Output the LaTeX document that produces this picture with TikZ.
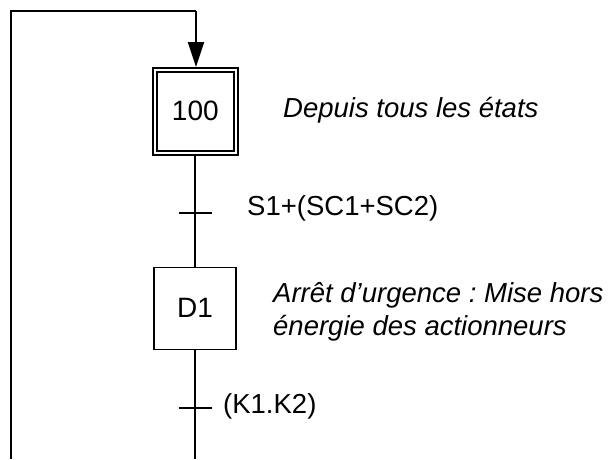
\documentclass[tikz,border=0pt]{standalone}
\usepackage{fontspec}
\setmainfont{Liberation Sans}
\usetikzlibrary{arrows.meta}
\frenchspacing
\begin{document}
\begin{tikzpicture}[x=1pt,y=-1pt,
  every node/.style={inner sep=0pt},
  txt/.style={font=\fontsize{27.5}{33}\selectfont, anchor=base west},
  itxt/.style={font=\fontsize{27.5}{33}\selectfont\itshape, anchor=base west},
  stepbox/.style={draw, line width=1.1pt, minimum width=82pt, minimum height=82pt, font=\fontsize{28}{33}\selectfont},
  initbox/.style={stepbox, line width=2pt, double, double distance=2pt, minimum width=81.5pt, minimum height=82.5pt},
  link/.style={line width=1.3pt},
  bar/.style={line width=2.2pt},
  flow/.style={line width=2pt, -{Triangle[length=25pt,width=16pt]}}
]
\useasboundingbox (0,0) rectangle (610,459);
\fill[white] (0,0) rectangle (610,459);

% steps
\node[initbox] (s100) at (195.3,111.3) {100};
\node[stepbox] (d1) at (195,308.3) {D1};

% transitions
\coordinate (t1) at (195,212.7);
\coordinate (t2) at (195,407.7);
\coordinate (bend) at (195,459);
\coordinate (lb) at (11,459);
\coordinate (tc) at (196,11);

% links
\draw[link] (lb) |- (tc);
\draw[flow] (tc) -- ([yshift=2pt]s100.north -| tc);
\draw[link] (s100.south -| t1) -- (d1.north -| t1);
\draw[link] (d1.south -| t2) -- (bend);
\draw[bar] ([xshift=-16.5pt]t1) -- ([xshift=16.5pt]t1);
\draw[bar] ([xshift=-16.5pt]t2) -- ([xshift=16.5pt]t2);

% labels
\node[itxt] (c100) at (283,117) {Depuis tous les états};
\node[txt] (r1) at (247,215) {S1+(SC1+SC2)};
\node[itxt] (cd1a) at (273,302) {Arrêt d’urgence : Mise hors};
\node[itxt] (cd1b) at (273,335) {énergie des actionneurs};
\node[txt] (r2) at (223,413) {(K1.K2)};
\end{tikzpicture}
\end{document}
